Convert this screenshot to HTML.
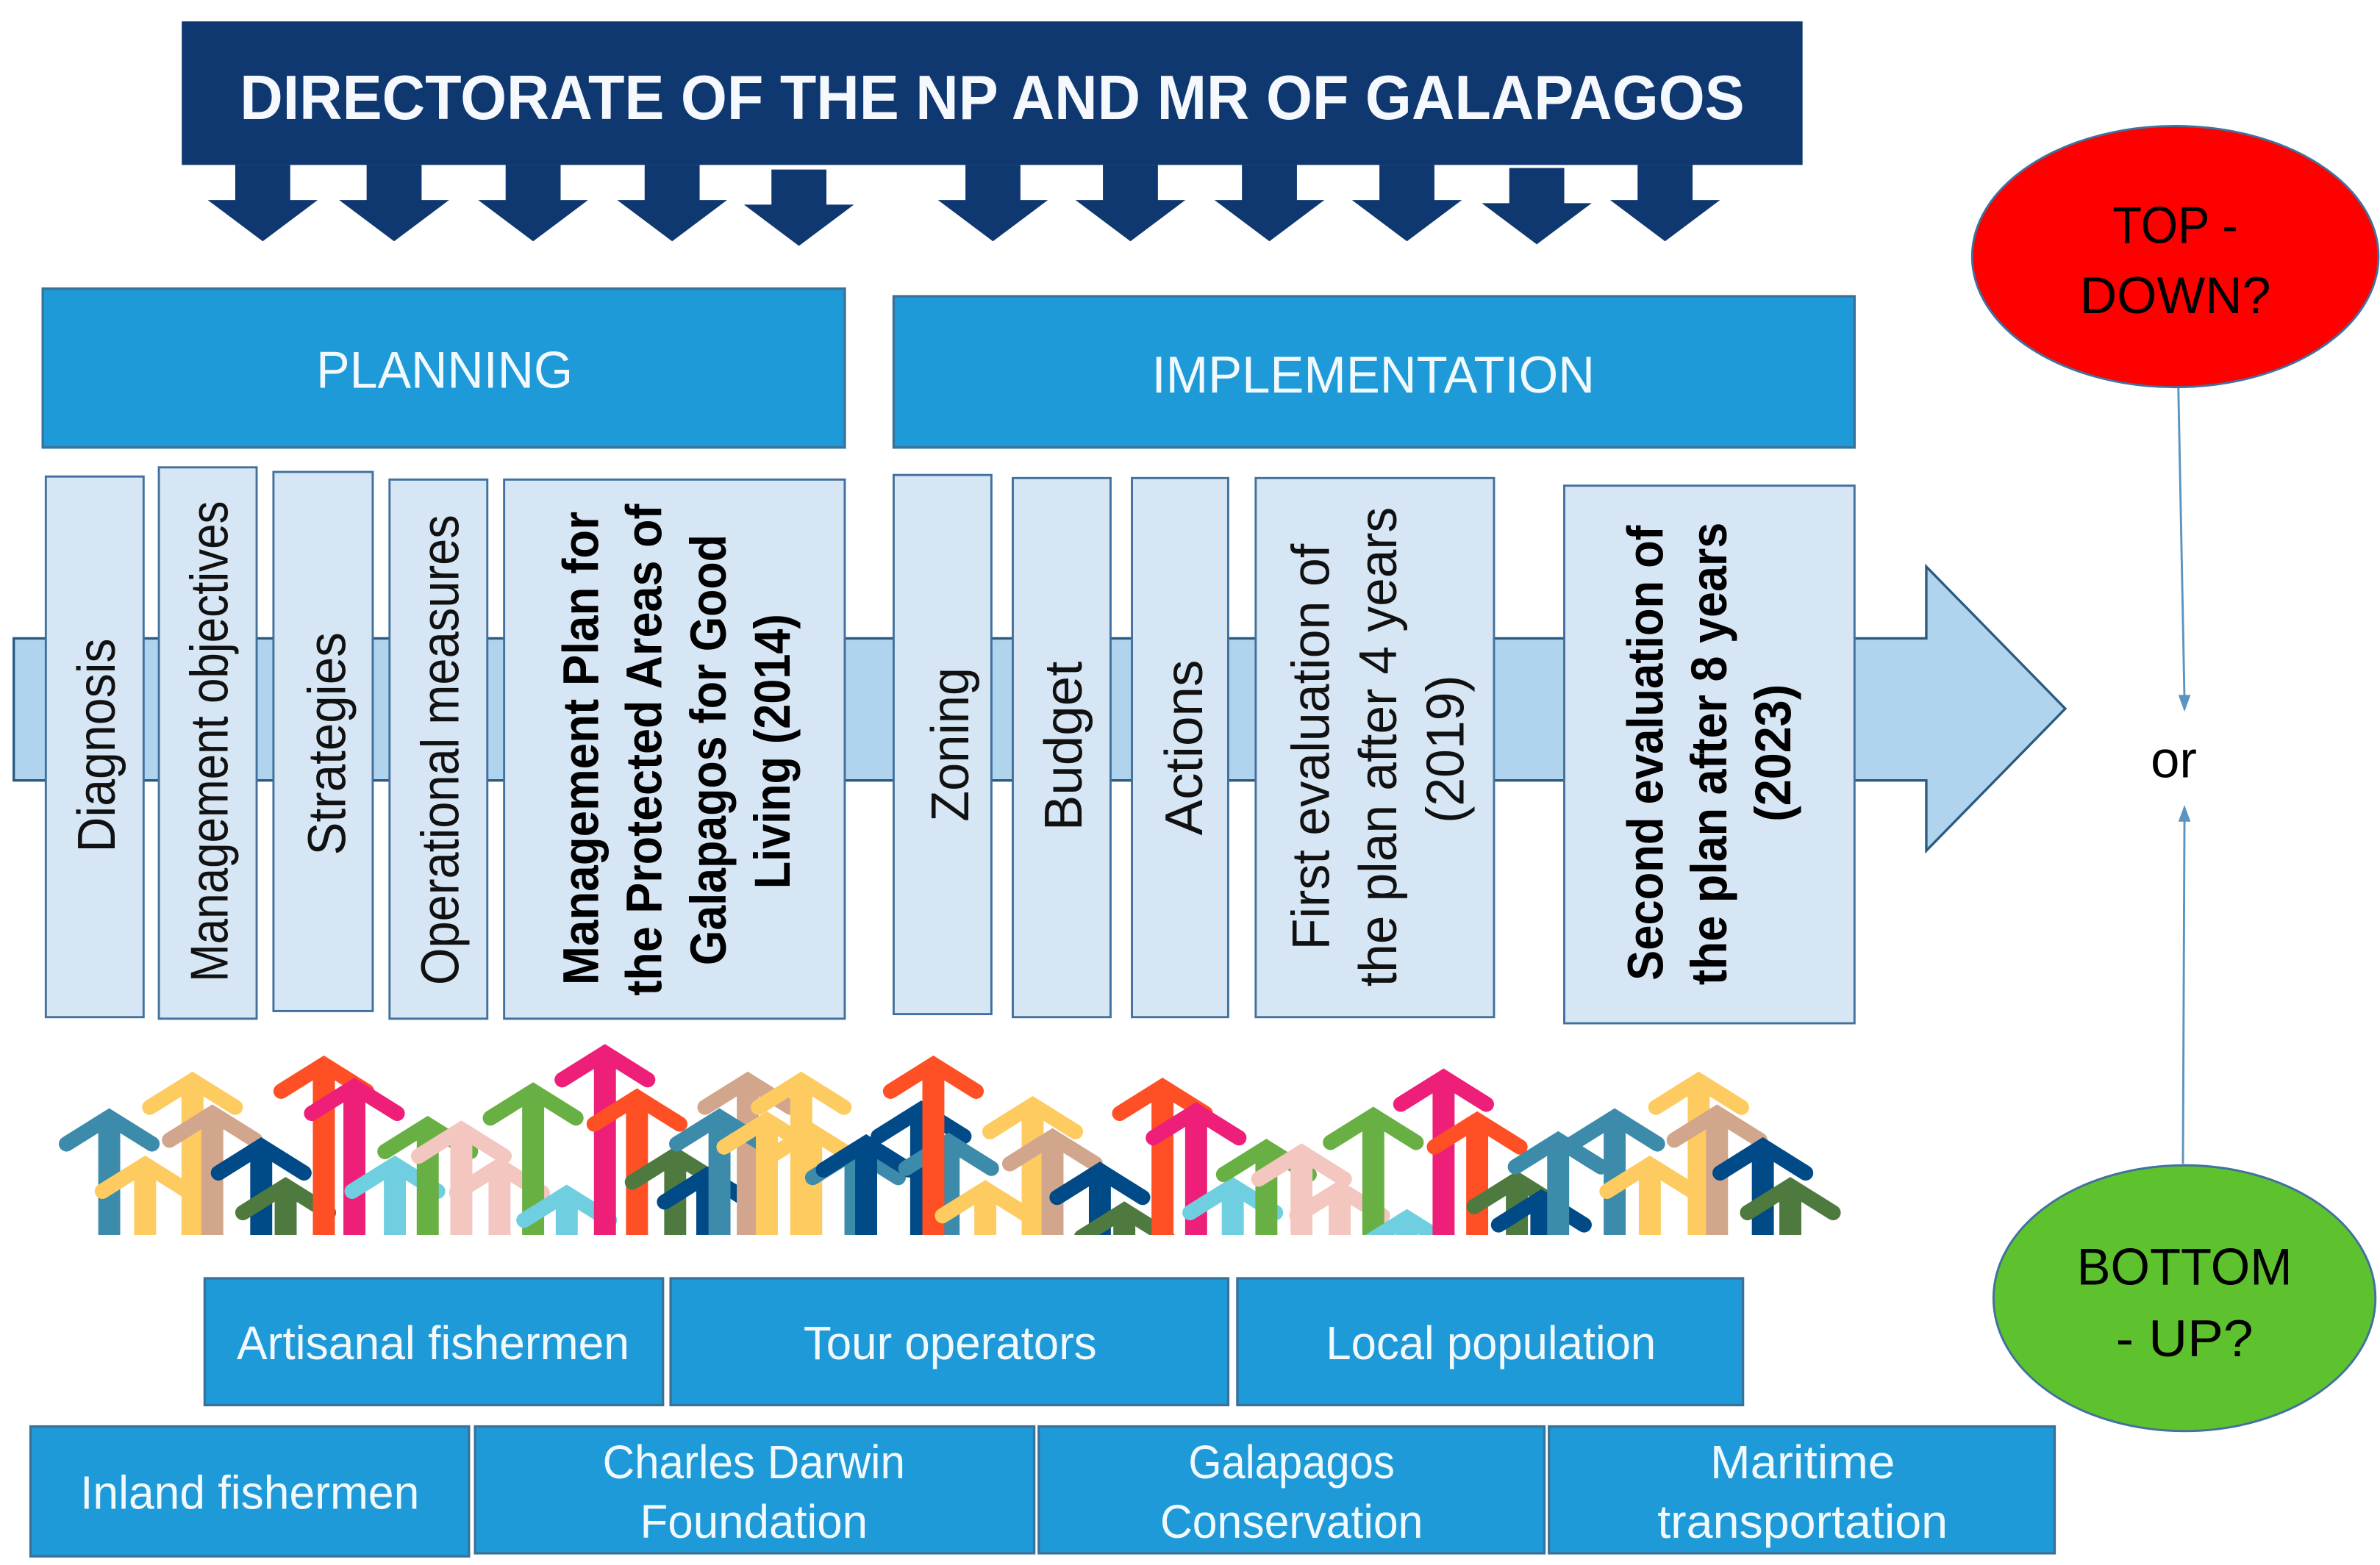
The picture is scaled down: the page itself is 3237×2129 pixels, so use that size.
<!DOCTYPE html>
<html>
<head>
<meta charset="utf-8">
<style>
html,body{margin:0;padding:0;background:#fff;width:3237px;height:2129px;overflow:hidden}
svg{display:block;overflow:hidden}
text{font-family:"Liberation Sans",sans-serif}
.b{fill:#1f9ad8;stroke:#3a7199;stroke-width:1.6}
.v{fill:#d7e6f4;stroke:#41719c;stroke-width:1.4}
.w{fill:#f2f9fd;font-size:31px;text-anchor:middle}
.k{fill:#111;font-size:35px;text-anchor:middle}
.kb{fill:#000;font-size:33px;font-weight:bold;text-anchor:middle}
.c{fill:#000;font-size:34px;text-anchor:middle}
</style>
</head>
<body>
<svg width="3237" height="2129" viewBox="0 0 1558 1024.7" xmlns="http://www.w3.org/2000/svg">
<defs>
<g id="a" fill="none">
<path d="M0,6 V130" stroke-width="14.4"/>
<path d="M-28,23 L0,5.5 L28,23" stroke-width="10" stroke-linecap="round" stroke-linejoin="miter"/>
</g>
<clipPath id="cl"><rect x="0" y="600" width="1558" height="208.6"/></clipPath>
<path id="d" d="M-18,-50 H18 V-27 H36 L0,0 L-36,-27 H-18 Z" fill="#0f3870"/>
</defs>
<rect width="1558" height="1024.7" fill="#fff"/>

<!-- big arrow -->
<polygon points="9,418 1261,418 1261,371 1352,464 1261,557 1261,511 9,511" fill="#b0d3ee" stroke="#2a5a80" stroke-width="1.6"/>

<!-- header -->
<rect x="119" y="14" width="1061" height="94" fill="#0f3870"/>
<text x="649.5" y="78" fill="#f5f8fc" font-size="41" font-weight="bold" text-anchor="middle" textLength="985" lengthAdjust="spacingAndGlyphs">DIRECTORATE OF THE NP AND MR OF GALAPAGOS</text>
<use href="#d" x="172" y="158"/>
<use href="#d" x="258" y="158"/>
<use href="#d" x="349" y="158"/>
<use href="#d" x="440" y="158"/>
<use href="#d" x="523" y="161"/>
<use href="#d" x="650" y="158"/>
<use href="#d" x="740" y="158"/>
<use href="#d" x="831" y="158"/>
<use href="#d" x="921" y="158"/>
<use href="#d" x="1006" y="160"/>
<use href="#d" x="1090" y="158"/>

<!-- section headers -->
<rect class="b" x="28" y="189" width="525" height="104"/>
<text class="w" x="291" y="254" style="font-size:34px" textLength="168" lengthAdjust="spacingAndGlyphs">PLANNING</text>
<rect class="b" x="585" y="194" width="629" height="99"/>
<text class="w" x="899" y="257" style="font-size:34px" textLength="290" lengthAdjust="spacingAndGlyphs">IMPLEMENTATION</text>

<!-- vertical boxes -->
<rect class="v" x="30" y="312" width="64" height="354"/>
<rect class="v" x="104" y="306" width="64" height="361"/>
<rect class="v" x="179" y="309" width="65" height="353"/>
<rect class="v" x="255" y="314" width="64" height="353"/>
<rect class="v" x="330" y="314" width="223" height="353"/>
<rect class="v" x="585" y="311" width="64" height="353"/>
<rect class="v" x="663" y="313" width="64" height="353"/>
<rect class="v" x="741" y="313" width="63" height="353"/>
<rect class="v" x="822" y="313" width="156" height="353"/>
<rect class="v" x="1024" y="318" width="190" height="352"/>

<text class="k" transform="translate(75,488) rotate(-90)" textLength="140" lengthAdjust="spacingAndGlyphs">Diagnosis</text>
<text class="k" transform="translate(149,485.5) rotate(-90)" textLength="315" lengthAdjust="spacingAndGlyphs">Management objectives</text>
<text class="k" transform="translate(226,487) rotate(-90)" textLength="146" lengthAdjust="spacingAndGlyphs">Strategies</text>
<text class="k" transform="translate(300,491) rotate(-90)" textLength="308" lengthAdjust="spacingAndGlyphs">Operational measures</text>

<text class="kb" transform="translate(391.5,490) rotate(-90)" textLength="310" lengthAdjust="spacingAndGlyphs">Management Plan for</text>
<text class="kb" transform="translate(433,491) rotate(-90)" textLength="322" lengthAdjust="spacingAndGlyphs">the Protected Areas of</text>
<text class="kb" transform="translate(475,491) rotate(-90)" textLength="282" lengthAdjust="spacingAndGlyphs">Galapagos for Good</text>
<text class="kb" transform="translate(517,492) rotate(-90)" textLength="180" lengthAdjust="spacingAndGlyphs">Living (2014)</text>

<text class="k" transform="translate(634,487.5) rotate(-90)" textLength="101" lengthAdjust="spacingAndGlyphs">Zoning</text>
<text class="k" transform="translate(708,488.5) rotate(-90)" textLength="111" lengthAdjust="spacingAndGlyphs">Budget</text>
<text class="k" transform="translate(787,489.5) rotate(-90)" textLength="115" lengthAdjust="spacingAndGlyphs">Actions</text>

<text class="k" transform="translate(870,489) rotate(-90)" textLength="266" lengthAdjust="spacingAndGlyphs">First evaluation of</text>
<text class="k" transform="translate(914,489) rotate(-90)" textLength="314" lengthAdjust="spacingAndGlyphs">the plan after 4 years</text>
<text class="k" transform="translate(958,490.5) rotate(-90)" textLength="97" lengthAdjust="spacingAndGlyphs">(2019)</text>

<text class="kb" transform="translate(1088.5,493) rotate(-90)" textLength="298" lengthAdjust="spacingAndGlyphs">Second evaluation of</text>
<text class="kb" transform="translate(1130,493.5) rotate(-90)" textLength="303" lengthAdjust="spacingAndGlyphs">the plan after 8 years</text>
<text class="kb" transform="translate(1172,493) rotate(-90)" textLength="90" lengthAdjust="spacingAndGlyphs">(2023)</text>

<!-- colourful arrows -->
<g clip-path="url(#cl)">
<use href="#a" x="71.5" y="726" stroke="#3d8bab"/>
<use href="#a" x="126" y="702" stroke="#fdcb60"/>
<use href="#a" x="95" y="757" stroke="#fdcb60"/>
<use href="#a" x="139" y="723.5" stroke="#d2a68c"/>
<use href="#a" x="171" y="745" stroke="#004a87"/>
<use href="#a" x="187" y="771" stroke="#4e7a3f"/>
<use href="#a" x="212" y="691.5" stroke="#ff4f25"/>
<use href="#a" x="232" y="706" stroke="#ee1f78"/>
<use href="#a" x="258.5" y="757" stroke="#6fcfe0"/>
<use href="#a" x="280" y="731" stroke="#68b044"/>
<use href="#a" x="302" y="734" stroke="#f3c6bf"/>
<use href="#a" x="327" y="758" stroke="#f3c6bf"/>
<use href="#a" x="349" y="709" stroke="#68b044"/>
<use href="#a" x="371" y="776" stroke="#6fcfe0"/>
<use href="#a" x="396" y="684" stroke="#ee1f78"/>
<use href="#a" x="417" y="713" stroke="#ff4f25"/>
<use href="#a" x="442" y="751" stroke="#4e7a3f"/>
<use href="#a" x="463" y="764" stroke="#004a87"/>
<use href="#a" x="489.5" y="702" stroke="#d2a68c"/>
<use href="#a" x="471" y="726" stroke="#3d8bab"/>
<use href="#a" x="502" y="728" stroke="#fdcb60"/>
<use href="#a" x="524.5" y="702" stroke="#fdcb60"/>
<use href="#a" x="531" y="735" stroke="#fdcb60"/>
<use href="#a" x="560" y="748" stroke="#3d8bab"/>
<use href="#a" x="567" y="743" stroke="#004a87"/>
<use href="#a" x="603" y="721" stroke="#004a87"/>
<use href="#a" x="621" y="742" stroke="#3d8bab"/>
<use href="#a" x="611" y="691.5" stroke="#ff4f25"/>
<use href="#a" x="645" y="773" stroke="#fdcb60"/>
<use href="#a" x="676" y="718" stroke="#fdcb60"/>
<use href="#a" x="689" y="739" stroke="#d2a68c"/>
<use href="#a" x="720" y="761" stroke="#004a87"/>
<use href="#a" x="736" y="787" stroke="#4e7a3f"/>
<use href="#a" x="761" y="706" stroke="#ff4f25"/>
<use href="#a" x="783" y="722" stroke="#ee1f78"/>
<use href="#a" x="807" y="771" stroke="#6fcfe0"/>
<use href="#a" x="829" y="746" stroke="#68b044"/>
<use href="#a" x="852" y="749" stroke="#f3c6bf"/>
<use href="#a" x="877" y="773" stroke="#f3c6bf"/>
<use href="#a" x="899" y="725" stroke="#68b044"/>
<use href="#a" x="921" y="792" stroke="#6fcfe0"/>
<use href="#a" x="945" y="700" stroke="#ee1f78"/>
<use href="#a" x="967" y="728" stroke="#ff4f25"/>
<use href="#a" x="993" y="767" stroke="#4e7a3f"/>
<use href="#a" x="1009" y="779" stroke="#004a87"/>
<use href="#a" x="1057" y="726" stroke="#3d8bab"/>
<use href="#a" x="1020" y="741" stroke="#3d8bab"/>
<use href="#a" x="1112" y="702" stroke="#fdcb60"/>
<use href="#a" x="1080" y="757" stroke="#fdcb60"/>
<use href="#a" x="1124" y="723.5" stroke="#d2a68c"/>
<use href="#a" x="1154" y="745" stroke="#004a87"/>
<use href="#a" x="1172" y="771" stroke="#4e7a3f"/>
</g>

<!-- bottom boxes -->
<rect class="b" x="134" y="837" width="300" height="83"/>
<rect class="b" x="439" y="837" width="365" height="83"/>
<rect class="b" x="810" y="837" width="331" height="83"/>
<rect class="b" x="20" y="934" width="287" height="85"/>
<rect class="b" x="311" y="934" width="366" height="83"/>
<rect class="b" x="680" y="934" width="331" height="83"/>
<rect class="b" x="1014" y="934" width="331" height="83"/>
<text class="w" x="283.5" y="890" textLength="257" lengthAdjust="spacingAndGlyphs">Artisanal fishermen</text>
<text class="w" x="622" y="890" textLength="192" lengthAdjust="spacingAndGlyphs">Tour operators</text>
<text class="w" x="976" y="890" textLength="216" lengthAdjust="spacingAndGlyphs">Local population</text>
<text class="w" x="163.5" y="988" textLength="222" lengthAdjust="spacingAndGlyphs">Inland fishermen</text>
<text class="w" x="493.5" y="968" textLength="198" lengthAdjust="spacingAndGlyphs">Charles Darwin</text>
<text class="w" x="493.5" y="1007" textLength="149" lengthAdjust="spacingAndGlyphs">Foundation</text>
<text class="w" x="845.5" y="968" textLength="135" lengthAdjust="spacingAndGlyphs">Galapagos</text>
<text class="w" x="845.5" y="1007" textLength="172" lengthAdjust="spacingAndGlyphs">Conservation</text>
<text class="w" x="1180" y="968" textLength="121" lengthAdjust="spacingAndGlyphs">Maritime</text>
<text class="w" x="1180" y="1007" textLength="190" lengthAdjust="spacingAndGlyphs">transportation</text>

<!-- right side -->
<ellipse cx="1424" cy="168" rx="133" ry="85.5" fill="#fe0000" stroke="#41719c" stroke-width="1.4"/>
<text class="c" x="1424" y="159" textLength="82" lengthAdjust="spacingAndGlyphs">TOP -</text>
<text class="c" x="1424" y="205" textLength="125" lengthAdjust="spacingAndGlyphs">DOWN?</text>
<ellipse cx="1430" cy="850" rx="125" ry="87" fill="#5ec22f" stroke="#41719c" stroke-width="1.4"/>
<text class="c" x="1430" y="841" textLength="141" lengthAdjust="spacingAndGlyphs">BOTTOM</text>
<text class="c" x="1430" y="888" textLength="90" lengthAdjust="spacingAndGlyphs">- UP?</text>

<path d="M1426,254 L1430,458" stroke="#5b94c0" stroke-width="1.4" fill="none"/>
<polygon points="1430,466 1426,455 1434,455" fill="#5b94c0"/>
<path d="M1429,762 L1430,535" stroke="#5b94c0" stroke-width="1.4" fill="none"/>
<polygon points="1430,527 1426,538 1434,538" fill="#5b94c0"/>
<text class="c" x="1423" y="509">or</text>
</svg>
</body>
</html>
